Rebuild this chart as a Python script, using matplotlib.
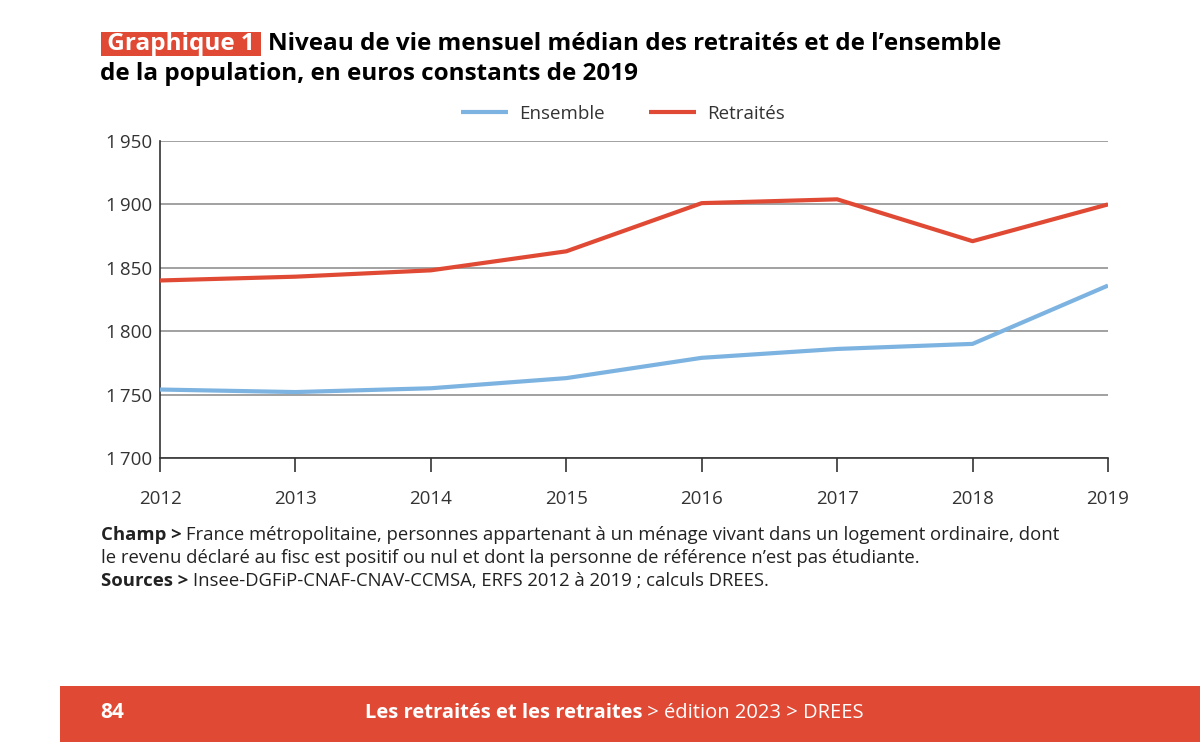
import numpy as np
import matplotlib.pyplot as plt
from matplotlib.ticker import FuncFormatter

years = [2012, 2013, 2014, 2015, 2016, 2017, 2018, 2019]
ensemble = [1754, 1752, 1755, 1763, 1779, 1786, 1790, 1836]
retraites = [1840, 1843, 1848, 1863, 1901, 1904, 1871, 1900]
yticks = [1700, 1750, 1800, 1850, 1900, 1950]

RED = '#E04A35'
BLUE = '#7DB3E0'
FONT = 'Open Sans'

plt.rcParams['font.family'] = [FONT, 'DejaVu Sans']

fig = plt.figure(figsize=(12, 7.42), dpi=100)
ax = fig.add_axes([160 / 1200, 1 - 458 / 742, 948 / 1200, 317 / 742])

ax.plot(years, ensemble, color=BLUE, lw=3.0, solid_capstyle='butt', label='Ensemble', zorder=3)
ax.plot(years, retraites, color=RED, lw=3.0, solid_capstyle='butt', label='Retraités', zorder=3)

ax.set_xlim(2012, 2019)
ax.set_ylim(1700, 1950)
ax.set_yticks(yticks)
ax.set_xticks(years)
ax.yaxis.set_major_formatter(FuncFormatter(lambda v, p: f'{int(v):,}'.replace(',', '\u2009')))
ax.grid(axis='y', color='#888888', lw=1.1)
ax.grid(axis='x', visible=False)
for s in ['top', 'right']:
    ax.spines[s].set_visible(False)
ax.spines['left'].set_color('#333333')
ax.spines['bottom'].set_color('#333333')
ax.spines['left'].set_linewidth(1.2)
ax.spines['bottom'].set_linewidth(1.2)
ax.tick_params(axis='y', length=0, pad=6, labelsize=13.5, labelcolor='#333333')
ax.tick_params(axis='x', length=10, width=1.2, color='#333333', pad=13,
               labelsize=13.5, labelcolor='#333333')

leg = fig.legend(loc='center', bbox_to_anchor=(623 / 1200, 1 - 114 / 742), ncol=2,
                 frameon=False, fontsize=13.5, handlelength=2.5, columnspacing=2.4,
                 handletextpad=0.6)
for t in leg.get_texts():
    t.set_color('#333333')

renderer = fig.canvas.get_renderer()


def run_text(x, y, parts, **kw):
    # pose des morceaux de texte les uns après les autres
    for txt, weight in parts:
        t = fig.text(x, y, txt, fontweight=weight, transform=None, **kw)
        x = t.get_window_extent(renderer).x1
    return x


H = 742
# titre
fig.text(101, H - 44, ' Graphique 1 ', transform=None, fontsize=17.5, fontweight='bold',
         color='white', va='center', ha='left',
         bbox=dict(boxstyle='square,pad=0.02', fc=RED, ec='none'))
fig.text(268, H - 44, 'Niveau de vie mensuel médian des retraités et de l\u2019ensemble',
         transform=None, fontsize=17.5, fontweight='bold', color='black', va='center')
fig.text(100, H - 74, 'de la population, en euros constants de 2019',
         transform=None, fontsize=17.5, fontweight='bold', color='black', va='center')

# notes
note_kw = dict(fontsize=13.3, color='#222222', va='center')
run_text(101, H - 535, [('Champ > ', 'bold'),
                        ('France métropolitaine, personnes appartenant à un ménage vivant dans un logement ordinaire, dont', 'normal')],
         **note_kw)
fig.text(101, H - 558, 'le revenu déclaré au fisc est positif ou nul et dont la personne de référence n\u2019est pas étudiante.',
         transform=None, **note_kw)
run_text(101, H - 581, [('Sources > ', 'bold'),
                        ('Insee-DGFiP-CNAF-CNAV-CCMSA, ERFS 2012 à 2019 ; calculs DREES.', 'normal')],
         **note_kw)

# bandeau de pied de page
fig.patches.append(plt.Rectangle((60 / 1200, 0), 1140 / 1200, 56 / 742,
                                 transform=fig.transFigure, fc=RED, ec='none', zorder=0))
fig.text(100, H - 713, '84', transform=None, fontsize=15, fontweight='bold', color='white', va='center')
run_text(365, H - 713, [('Les retraités et les retraites', 'bold'),
                        (' > édition 2023 > DREES', 'normal')],
         fontsize=14.5, color='white', va='center')

fig.savefig('out.png', dpi=100)
